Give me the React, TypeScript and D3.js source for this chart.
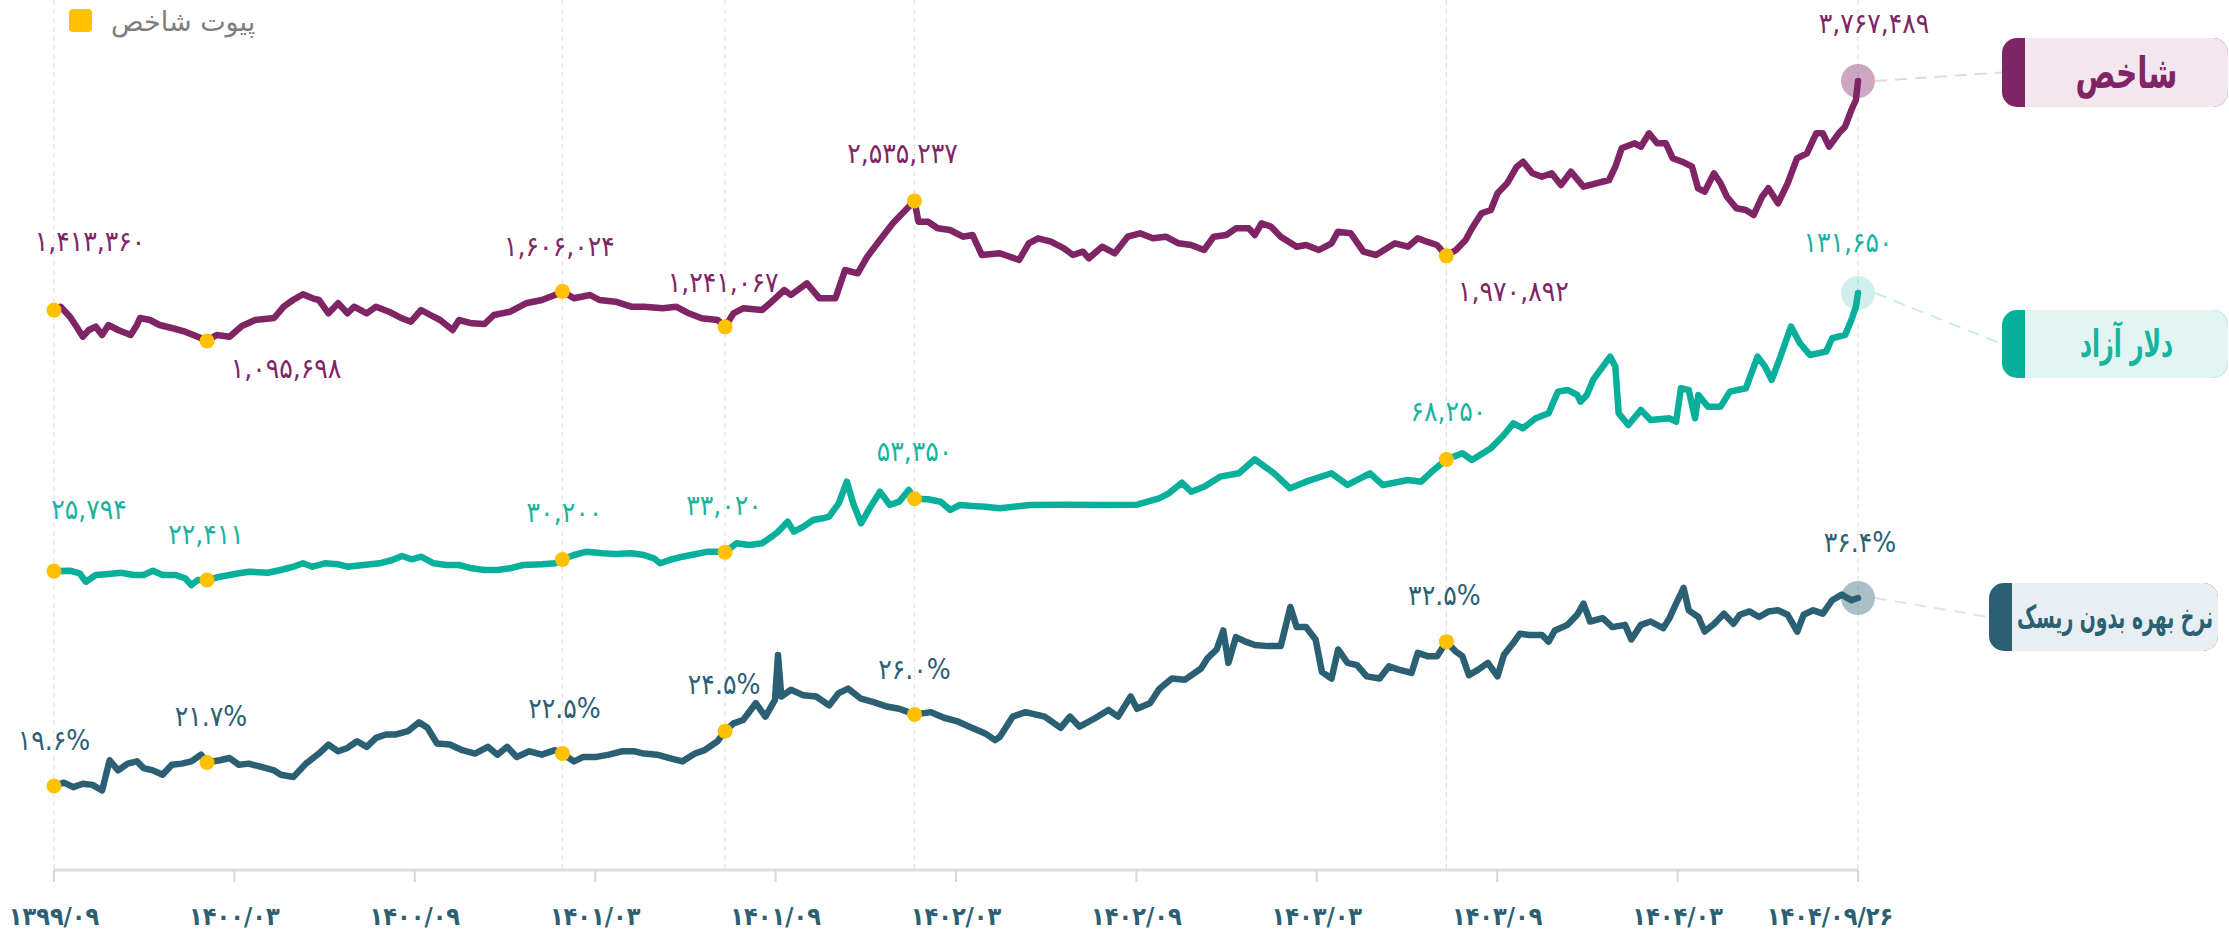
import React, { useLayoutEffect, useRef, useState } from "react";
import * as d3 from "d3";

// ---- DATA (t = months since 1399/09/26) ----
const tickMonths = [0, 6, 12, 18, 24, 30, 36, 42, 48, 54, 60];
const tickLabels = ["۱۳۹۹/۰۹", "۱۴۰۰/۰۳", "۱۴۰۰/۰۹", "۱۴۰۱/۰۳", "۱۴۰۱/۰۹", "۱۴۰۲/۰۳", "۱۴۰۲/۰۹", "۱۴۰۳/۰۳", "۱۴۰۳/۰۹", "۱۴۰۴/۰۳", "۱۴۰۴/۰۹/۲۶"];

const pivotMonths = [0, 5.09, 16.91, 22.32, 28.62, 46.31, 60];
const indexPivots = [1413360, 1095698, 1606024, 1241067, 2535237, 1970892, 3767489];
const dollarPivots = [25794, 22411, 30200, 33020, 53350, 68250, 131650];
const ratePivots = [19.6, 21.7, 22.5, 24.5, 26.0, 32.5, 36.4];

const indexSeries: [number, number][] = [[0,1413360],[0.22,1448000],[0.53,1345400],[0.75,1242600],[0.96,1139900],[1.16,1208700],[1.39,1242600],[1.6,1157400],[1.81,1260100],[2.13,1208700],[2.55,1157400],[2.76,1260100],[2.86,1332000],[3.19,1311500],[3.51,1260100],[3.92,1229300],[4.36,1191300],[4.78,1139900],[5.09,1095698],[5.41,1157400],[5.84,1139900],[6.25,1249800],[6.69,1311500],[7.32,1332000],[7.64,1448200],[7.95,1517000],[8.28,1575600],[8.6,1534500],[8.81,1517000],[9.13,1380300],[9.45,1483100],[9.76,1380300],[9.98,1448200],[10.4,1380300],[10.71,1448200],[11.14,1396800],[11.57,1329000],[11.87,1294000],[12.21,1414300],[12.52,1362900],[12.84,1311500],[13.26,1208700],[13.47,1311500],[13.9,1277600],[14.32,1270400],[14.63,1362900],[15.17,1396800],[15.7,1483100],[16.23,1517000],[16.66,1568400],[16.91,1606024],[17.29,1534500],[17.83,1568400],[18.14,1517000],[18.67,1499500],[19.2,1448200],[19.62,1448200],[20.25,1431700],[20.69,1448200],[21.11,1380300],[21.54,1329000],[22.07,1311500],[22.32,1241067],[22.6,1380300],[22.92,1431700],[23.55,1414300],[23.87,1499500],[24.29,1619800],[24.51,1568400],[25.04,1688600],[25.46,1534500],[25.99,1534500],[26.31,1825300],[26.73,1791400],[27.05,1962000],[27.47,2133600],[27.9,2305200],[28.22,2407900],[28.43,2475800],[28.62,2535237],[28.75,2321600],[29.07,2321600],[29.39,2253800],[29.8,2236300],[30.23,2167500],[30.55,2185000],[30.86,1979400],[31.46,1996900],[32.1,1928100],[32.42,2099700],[32.73,2151000],[33.16,2116100],[33.59,2048300],[33.89,1979400],[34.22,2013300],[34.42,1945500],[34.86,2064700],[35.28,1996900],[35.71,2167500],[36.12,2202400],[36.55,2151000],[36.98,2167500],[37.4,2099700],[37.82,2082200],[38.25,2030800],[38.57,2167500],[38.99,2185000],[39.31,2253800],[39.74,2253800],[39.94,2185000],[40.16,2305200],[40.48,2270200],[40.8,2167500],[41.33,2064700],[41.64,2082200],[42.07,2030800],[42.49,2099700],[42.7,2218900],[43.13,2202400],[43.55,2013300],[43.97,1979400],[44.6,2099700],[45.03,2064700],[45.36,2151000],[45.66,2116100],[46.0,2082200],[46.31,1970892],[46.63,2030800],[46.95,2133600],[47.16,2253800],[47.48,2407900],[47.79,2441900],[48.01,2613500],[48.33,2716200],[48.65,2886800],[48.86,2938200],[49.17,2819000],[49.49,2784000],[49.81,2819000],[50.12,2698800],[50.45,2835400],[50.87,2681300],[51.29,2716200],[51.72,2750100],[51.93,2886800],[52.14,3075900],[52.57,3127300],[52.78,3092300],[53.05,3230000],[53.32,3127300],[53.61,3127300],[53.84,2973100],[54.15,2938200],[54.48,2886800],[54.68,2664800],[54.9,2629900],[55.21,2819000],[55.43,2716200],[55.64,2578500],[55.96,2459300],[56.27,2441900],[56.53,2390500],[56.81,2578500],[57.02,2664800],[57.34,2510700],[57.66,2716200],[57.97,2973100],[58.3,3024500],[58.61,3230000],[58.83,3230000],[59.04,3092300],[59.36,3230000],[59.57,3297800],[59.78,3469500],[59.93,3572200],[60,3767489]];

const dollarSeries: [number, number][] = [[0,25794],[0.53,25950],[0.85,24960],[1.06,21760],[1.39,24310],[1.81,24700],[2.23,25190],[2.66,24310],[2.98,24310],[3.29,25950],[3.61,24310],[4.04,24310],[4.36,23060],[4.57,20510],[4.78,22410],[5.09,22411],[5.52,23670],[5.84,24310],[6.15,24960],[6.48,25570],[7.11,25190],[7.54,26220],[7.96,27470],[8.28,28770],[8.6,27470],[9.01,28770],[9.45,28390],[9.76,27470],[10.29,28120],[10.83,28770],[11.25,30030],[11.57,31550],[11.89,30290],[12.21,31280],[12.63,28770],[13.05,28120],[13.47,28120],[13.9,26870],[14.32,26220],[14.75,26220],[15.17,26870],[15.6,28120],[16.23,28390],[16.66,28770],[16.91,30200],[17.29,31930],[17.72,33190],[18.25,32580],[18.67,32310],[19.2,32580],[19.62,31930],[19.95,30670],[20.16,28770],[20.47,30030],[20.9,31280],[21.32,32200],[21.75,33190],[22.07,33190],[22.32,33020],[22.7,36380],[23.13,35740],[23.55,36380],[23.87,38900],[24.08,40800],[24.4,44610],[24.61,40800],[24.93,42700],[25.25,45250],[25.57,45900],[25.78,46510],[26.1,51610],[26.37,59830],[26.58,51610],[26.84,44000],[27.16,50320],[27.47,56030],[27.8,50960],[28.11,52220],[28.43,56670],[28.62,53350],[29.07,53130],[29.49,52220],[29.81,49060],[30.13,50960],[30.55,50580],[30.97,50320],[31.46,49710],[32.46,50960],[33.66,51080],[34.79,50960],[36.02,51080],[36.75,53510],[37.08,55420],[37.51,59450],[37.82,56030],[38.25,57930],[38.78,61740],[39.41,63030],[39.94,68360],[40.27,65540],[40.58,63030],[41.11,57320],[41.64,59830],[42.49,63030],[43.02,58580],[43.77,63030],[44.19,58580],[45.03,60480],[45.47,59830],[45.89,64290],[46.31,68250],[46.84,70650],[47.16,68100],[47.79,72550],[48.22,77610],[48.54,82070],[48.86,80160],[49.28,83970],[49.71,85870],[50.02,94100],[50.34,94740],[50.66,92840],[50.77,90290],[50.98,92840],[51.19,98550],[51.51,103610],[51.76,107420],[51.93,103610],[52.04,85870],[52.36,81420],[52.78,87130],[53.1,83320],[53.73,83970],[53.95,82680],[54.11,95390],[54.37,94740],[54.58,83970],[54.69,92840],[55.01,88390],[55.43,88390],[55.74,94100],[56.27,95390],[56.66,107420],[56.91,103610],[57.13,98550],[57.38,106170],[57.77,118840],[58.07,112520],[58.4,108070],[58.94,109330],[59.14,114430],[59.57,115680],[59.78,121390],[59.93,126460],[60,131650]];

const rateSeries: [number, number][] = [[0,19.6],[0.33,19.9],[0.64,19.5],[0.96,19.8],[1.28,19.7],[1.6,19.2],[1.85,21.9],[2.13,21.0],[2.45,21.6],[2.76,21.8],[2.98,21.2],[3.29,21.0],[3.61,20.6],[3.92,21.5],[4.25,21.6],[4.57,21.8],[4.89,22.4],[5.09,21.7],[5.52,21.9],[5.84,22.1],[6.15,21.5],[6.48,21.6],[6.9,21.3],[7.32,21.0],[7.54,20.6],[7.96,20.4],[8.38,21.6],[8.81,22.5],[9.13,23.3],[9.45,22.7],[9.76,23.0],[10.08,23.6],[10.4,23.1],[10.71,23.9],[11.04,24.2],[11.35,24.2],[11.77,24.5],[12.14,25.3],[12.42,24.8],[12.74,23.4],[13.16,23.3],[13.58,22.8],[14.0,22.5],[14.43,23.1],[14.75,22.4],[15.07,23.1],[15.39,22.2],[15.81,22.7],[16.23,22.4],[16.66,22.8],[16.91,22.5],[17.29,21.8],[17.61,22.2],[18.04,22.2],[18.46,22.4],[18.88,22.7],[19.31,22.7],[19.62,22.5],[20.06,22.4],[20.47,22.1],[20.9,21.8],[21.32,22.5],[21.64,22.8],[22.07,23.6],[22.32,24.5],[22.6,25.2],[22.92,25.5],[23.34,27.0],[23.66,25.8],[23.98,27.3],[24.08,31.3],[24.19,27.6],[24.51,28.2],[24.93,27.7],[25.35,27.6],[25.78,26.8],[26.1,27.9],[26.41,28.3],[26.84,27.4],[27.26,27.1],[27.69,26.7],[28.11,26.5],[28.62,26.0],[29.17,26.2],[29.6,25.7],[30.02,25.4],[30.45,24.9],[30.97,24.3],[31.3,23.7],[31.46,24.0],[31.89,25.8],[32.31,26.2],[32.95,25.8],[33.48,24.8],[33.79,25.8],[34.11,24.9],[34.65,25.7],[35.07,26.4],[35.39,25.8],[35.81,27.6],[36.02,26.5],[36.45,27.0],[36.77,28.3],[37.18,29.2],[37.62,29.1],[38.15,30.1],[38.36,31.0],[38.67,31.8],[38.89,33.5],[39.06,30.6],[39.31,32.9],[39.63,32.5],[39.94,32.2],[40.38,32.1],[40.8,32.1],[41.12,35.6],[41.33,33.8],[41.64,33.8],[41.96,32.7],[42.17,29.8],[42.49,29.2],[42.71,31.8],[43.02,30.6],[43.34,30.4],[43.66,29.4],[44.09,29.2],[44.4,30.3],[44.72,30.0],[45.15,29.7],[45.36,31.5],[45.68,31.2],[46.0,31.2],[46.31,32.5],[46.63,31.6],[46.84,31.2],[47.06,29.5],[47.37,30.0],[47.69,30.6],[48.01,29.4],[48.22,31.3],[48.54,32.4],[48.75,33.2],[49.07,33.1],[49.49,33.1],[49.71,32.5],[49.92,33.5],[50.34,34.0],[50.66,34.9],[50.87,35.9],[51.09,34.3],[51.51,34.6],[51.83,33.8],[52.25,34.0],[52.46,32.7],[52.78,34.0],[53.1,34.3],[53.52,33.7],[53.73,34.6],[53.95,35.9],[54.2,37.3],[54.37,35.3],[54.69,34.7],[54.9,33.4],[55.22,34.1],[55.54,35.0],[55.86,34.1],[56.07,34.9],[56.39,35.2],[56.71,34.7],[57.03,35.2],[57.34,35.3],[57.66,34.9],[57.98,33.4],[58.19,34.9],[58.51,35.3],[58.83,35.0],[59.14,36.2],[59.46,36.7],[59.78,36.2],[60,36.4]];

const seriesNames = ["شاخص", "دلار آزاد", "نرخ بهره بدون ریسک"];
const legendLabel = "پیوت شاخص";

// ---- LAYOUT / STYLE ----
const W = 2229, H = 931;
const FONT = "'DejaVu Sans Condensed', 'DejaVu Sans', sans-serif";
const PIVOT_COLOR = "#FFC000";
const AXIS_Y = 870;

const x = d3.scaleLinear().domain([0, 60]).range([54, 1858]);

const toFa = (s: string) => s.replace(/[0-9]/g, (d) => "۰۱۲۳۴۵۶۷۸۹"[+d]);
const fmtNum = (v: number) => toFa(d3.format(",")(v));
const fmtPct = (v: number) => toFa(v.toFixed(1)) + "%";

const series = [
  {
    name: seriesNames[0], color: "#7f2465", textColor: "#7f2465", light: "#f3e6ef", connector: "#ecd3e3",
    data: indexSeries, pivots: indexPivots, fmt: fmtNum, circleOpacity: 0.4,
    y: d3.scaleLinear().domain([1095698, 3767489]).range([341, 81]),
    labelOffsets: [[36, -69], [79, 27], [-3, -45], [-2, -44], [-12, -47], [67, 36], [16, -58]],
    box: { x: 2002, y: 38, w: 226, h: 69, fs: 44, tl: 102 },
  },
  {
    name: seriesNames[1], color: "#08b09b", textColor: "#1ab3a0", light: "#e3f5f3", connector: "#c9eee9",
    data: dollarSeries, pivots: dollarPivots, fmt: fmtNum, circleOpacity: 0.2,
    y: d3.scaleLinear().domain([22411, 131650]).range([580, 293]),
    labelOffsets: [[35, -62], [-1, -46], [2, -47], [-1, -47], [0, -47], [2, -48], [-10, -51]],
    box: { x: 2002, y: 310, w: 226, h: 68, fs: 38, tl: 93 },
  },
  {
    name: seriesNames[2], color: "#2b6074", textColor: "#2b6074", light: "#e8eef1", connector: "#dde5ea",
    data: rateSeries, pivots: ratePivots, fmt: fmtPct, circleOpacity: 0.4,
    y: d3.scaleLinear().domain([19.6, 36.4]).range([786, 598]),
    labelOffsets: [[0, -46], [4, -46], [2, -45], [-1, -47], [0, -45], [-2, -46], [2, -56]],
    box: { x: 1989, y: 583, w: 229, h: 68, fs: 32, tl: 196 },
  },
];

const STRIP = 23, R = 15;

function bodyPath(bx: number, by: number, bw: number, bh: number) {
  const x0 = bx + STRIP, x1 = bx + bw, y0 = by, y1 = by + bh;
  return `M${x0},${y0}H${x1 - R}A${R},${R} 0 0 1 ${x1},${y0 + R}V${y1 - R}A${R},${R} 0 0 1 ${x1 - R},${y1}H${x0}Z`;
}

export default function App() {
  const gridMonths = pivotMonths.filter((_, i) => i !== 1);
  const nameRefs = useRef<(SVGTextElement | null)[]>([]);
  const [scales, setScales] = useState<number[]>([0.6, 0.6, 0.6]);

  useLayoutEffect(() => {
    const sc = series.map((s, i) => {
      const el = nameRefs.current[i];
      if (!el) return 0.6;
      const w = el.getComputedTextLength();
      return w > 0 ? s.box.tl / w : 0.6;
    });
    setScales(sc);
  }, []);

  return (
    <svg width={W} height={H} style={{ position: "absolute", left: 0, top: 0, background: "#fff" }}>
      {/* vertical dashed gridlines */}
      {gridMonths.map((m, i) => (
        <line key={i} x1={x(m)} x2={x(m)} y1={0} y2={AXIS_Y} stroke="#e2e2e2" strokeWidth={1.2} strokeDasharray="5,4" />
      ))}

      {/* axis */}
      <line x1={x(0)} x2={x(60)} y1={AXIS_Y} y2={AXIS_Y} stroke="#dcdcdc" strokeWidth={3} />
      {tickMonths.map((m, i) => (
        <g key={i}>
          <line x1={x(m)} x2={x(m)} y1={AXIS_Y} y2={AXIS_Y + 12} stroke="#d8d8d8" strokeWidth={2} />
          <text x={x(m) + (i === tickMonths.length - 1 ? -28 : 0)} y={916} textAnchor="middle" dominantBaseline="central"
            fontFamily={FONT} fontWeight="bold" fontSize={25} fill="#2b6074">{tickLabels[i]}</text>
        </g>
      ))}

      {/* legend */}
      <rect x={69} y={9} width={23} height={23} rx={4} fill={PIVOT_COLOR} />
      <text x={111} y={21} dominantBaseline="central" fontFamily="'DejaVu Sans', sans-serif" fontSize={27} fill="#7d7d7d">{legendLabel}</text>

      {series.map((s, si) => {
        const line = d3.line<[number, number]>().x((d) => x(d[0])).y((d) => s.y(d[1]));
        const endX = x(60), endY = s.y(s.pivots[6]);
        const b = s.box;
        const cx = b.x + STRIP + (b.w - STRIP) / 2, cy = b.y + b.h / 2;
        return (
          <g key={si}>
            {/* connector */}
            <line x1={endX + 17} y1={endY} x2={b.x} y2={cy} stroke={s.connector} strokeWidth={2} strokeDasharray="12,8" />
            {/* end circle */}
            <circle cx={endX} cy={endY} r={17} fill={s.color} fillOpacity={s.circleOpacity} />
            <path d={line(s.data) || ""} fill="none" stroke={s.color} strokeWidth={6.5} strokeLinejoin="round" strokeLinecap="round" />
            {/* pivots */}
            {pivotMonths.slice(0, 6).map((m, i) => (
              <circle key={i} cx={x(m)} cy={s.y(s.pivots[i])} r={7.5} fill={PIVOT_COLOR} />
            ))}
            {/* labels */}
            {pivotMonths.map((m, i) => (
              <text key={"l" + i} x={x(m) + s.labelOffsets[i][0]} y={s.y(s.pivots[i]) + s.labelOffsets[i][1]}
                textAnchor="middle" dominantBaseline="central" fontFamily={FONT} fontSize={28} fill={s.textColor}>
                {s.fmt(s.pivots[i])}
              </text>
            ))}
            {/* name box */}
            <rect x={b.x} y={b.y} width={b.w} height={b.h} rx={R} fill={s.color} />
            <path d={bodyPath(b.x, b.y, b.w, b.h)} fill={s.light} />
            <g transform={`translate(${cx},${cy}) scale(${scales[si]},1)`}>
              <text ref={(el) => { nameRefs.current[si] = el; }} x={0} y={0} textAnchor="middle" dominantBaseline="central"
                fontFamily="'DejaVu Sans', sans-serif" fontWeight="bold" fontSize={b.fs} fill={s.textColor}>{s.name}</text>
            </g>
          </g>
        );
      })}
    </svg>
  );
}
